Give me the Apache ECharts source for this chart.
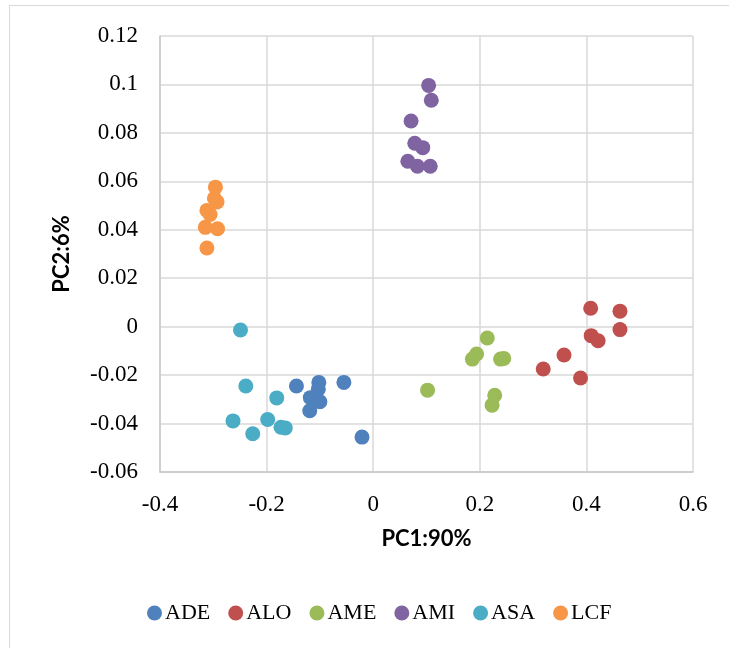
<!DOCTYPE html>
<html>
<head>
<meta charset="utf-8">
<script src="https://cdn.jsdelivr.net/npm/echarts@6/dist/echarts.min.js"></script>
<style>
  html, body { margin: 0; padding: 0; background: #ffffff; }
  #frame { position: absolute; left: 9px; top: 5px; width: 760px; height: 700px; border: 1.5px solid #d9d9d9; box-sizing: border-box; }
  #chart { position: absolute; left: 0; top: 0; width: 729px; height: 648px; }
</style>
</head>
<body>
<div id="frame"></div>
<div id="chart"></div>
<script>
// Series names
const seriesNames = ["ADE", "ALO", "AME", "AMI", "ASA", "LCF"];
const seriesColors = ["#4f81bd", "#c0504d", "#9bbb59", "#8064a2", "#4bacc6", "#f79646"];

// PC1 / PC2 values for each group
const ADE = [[-0.144, -0.0245], [-0.102, -0.023], [-0.103, -0.0258], [-0.055, -0.023], [-0.118, -0.0293], [-0.100, -0.031], [-0.119, -0.0347], [-0.021, -0.0456]];
const ALO = [[0.408, 0.0076], [0.463, 0.0064], [0.463, -0.0012], [0.409, -0.0037], [0.422, -0.0058], [0.358, -0.0117], [0.319, -0.0175], [0.389, -0.0212]];
const AME = [[0.214, -0.0047], [0.194, -0.0113], [0.186, -0.0134], [0.239, -0.0134], [0.245, -0.0131], [0.102, -0.0262], [0.228, -0.0283], [0.223, -0.0324]];
const AMI = [[0.104, 0.0996], [0.109, 0.0935], [0.071, 0.0849], [0.078, 0.0757], [0.093, 0.0739], [0.065, 0.0683], [0.083, 0.0662], [0.107, 0.0662]];
const ASA = [[-0.249, -0.0014], [-0.239, -0.0245], [-0.181, -0.0294], [-0.263, -0.0389], [-0.198, -0.0383], [-0.226, -0.0442], [-0.173, -0.0415], [-0.165, -0.0418]];
const LCF = [[-0.296, 0.0576], [-0.293, 0.0515], [-0.298, 0.053], [-0.312, 0.048], [-0.306, 0.0463], [-0.315, 0.041], [-0.292, 0.0404], [-0.312, 0.0325]];

// Axis ticks
const xTicks = { min: -0.4, max: 0.6, interval: 0.2 };
const yTicks = { min: -0.06, max: 0.12, interval: 0.02 };
const xTitle = "PC1:90%";
const yTitle = "PC2:6%";

const groups = [ADE, ALO, AME, AMI, ASA, LCF];

const chart = echarts.init(document.getElementById('chart'), null, { renderer: 'canvas' });
const serifFont = "'Liberation Serif', 'DejaVu Serif', serif";
const titleFont = "Lato, 'Liberation Sans', sans-serif";

const option = {
  animation: false,
  backgroundColor: 'transparent',
  grid: { left: 160, right: 36, top: 36, bottom: 176, containLabel: false },
  xAxis: {
    type: 'value',
    min: xTicks.min, max: xTicks.max, interval: xTicks.interval,
    name: xTitle, nameLocation: 'middle', nameGap: 56,
    nameTextStyle: { fontFamily: titleFont, fontWeight: 'bold', fontSize: 22, color: '#000' },
    axisLine: { show: true, onZero: false, lineStyle: { color: '#c8c8c8', width: 1.5 } },
    axisTick: { show: false },
    splitLine: { show: true, lineStyle: { color: '#d9d9d9', width: 1.5 } },
    axisLabel: { margin: 21, fontFamily: serifFont, fontSize: 23, color: '#000',
      formatter: v => String(+v.toFixed(2)) }
  },
  yAxis: {
    type: 'value',
    min: yTicks.min, max: yTicks.max, interval: yTicks.interval,
    name: yTitle, nameLocation: 'middle', nameGap: 87, nameRotate: 90,
    nameTextStyle: { fontFamily: titleFont, fontWeight: 'bold', fontSize: 22, color: '#000' },
    axisLine: { show: true, onZero: false, lineStyle: { color: '#c8c8c8', width: 1.5 } },
    axisTick: { show: false },
    splitLine: { show: true, lineStyle: { color: '#d9d9d9', width: 1.5 } },
    axisLabel: { margin: 22, fontFamily: serifFont, fontSize: 23, color: '#000',
      formatter: v => String(+v.toFixed(2)) }
  },
  legend: {
    top: 597, left: 142,
    icon: 'circle', itemWidth: 15, itemHeight: 15, itemGap: 18,
    textStyle: { fontFamily: serifFont, fontSize: 22, color: '#000', padding: [0, 0, 0, -2] },
    data: seriesNames
  },
  series: groups.map((g, i) => ({
    name: seriesNames[i],
    type: 'scatter',
    data: g,
    symbol: 'circle',
    symbolSize: 15,
    itemStyle: { color: seriesColors[i], opacity: 1 }
  }))
};
chart.setOption(option);
</script>
</body>
</html>
